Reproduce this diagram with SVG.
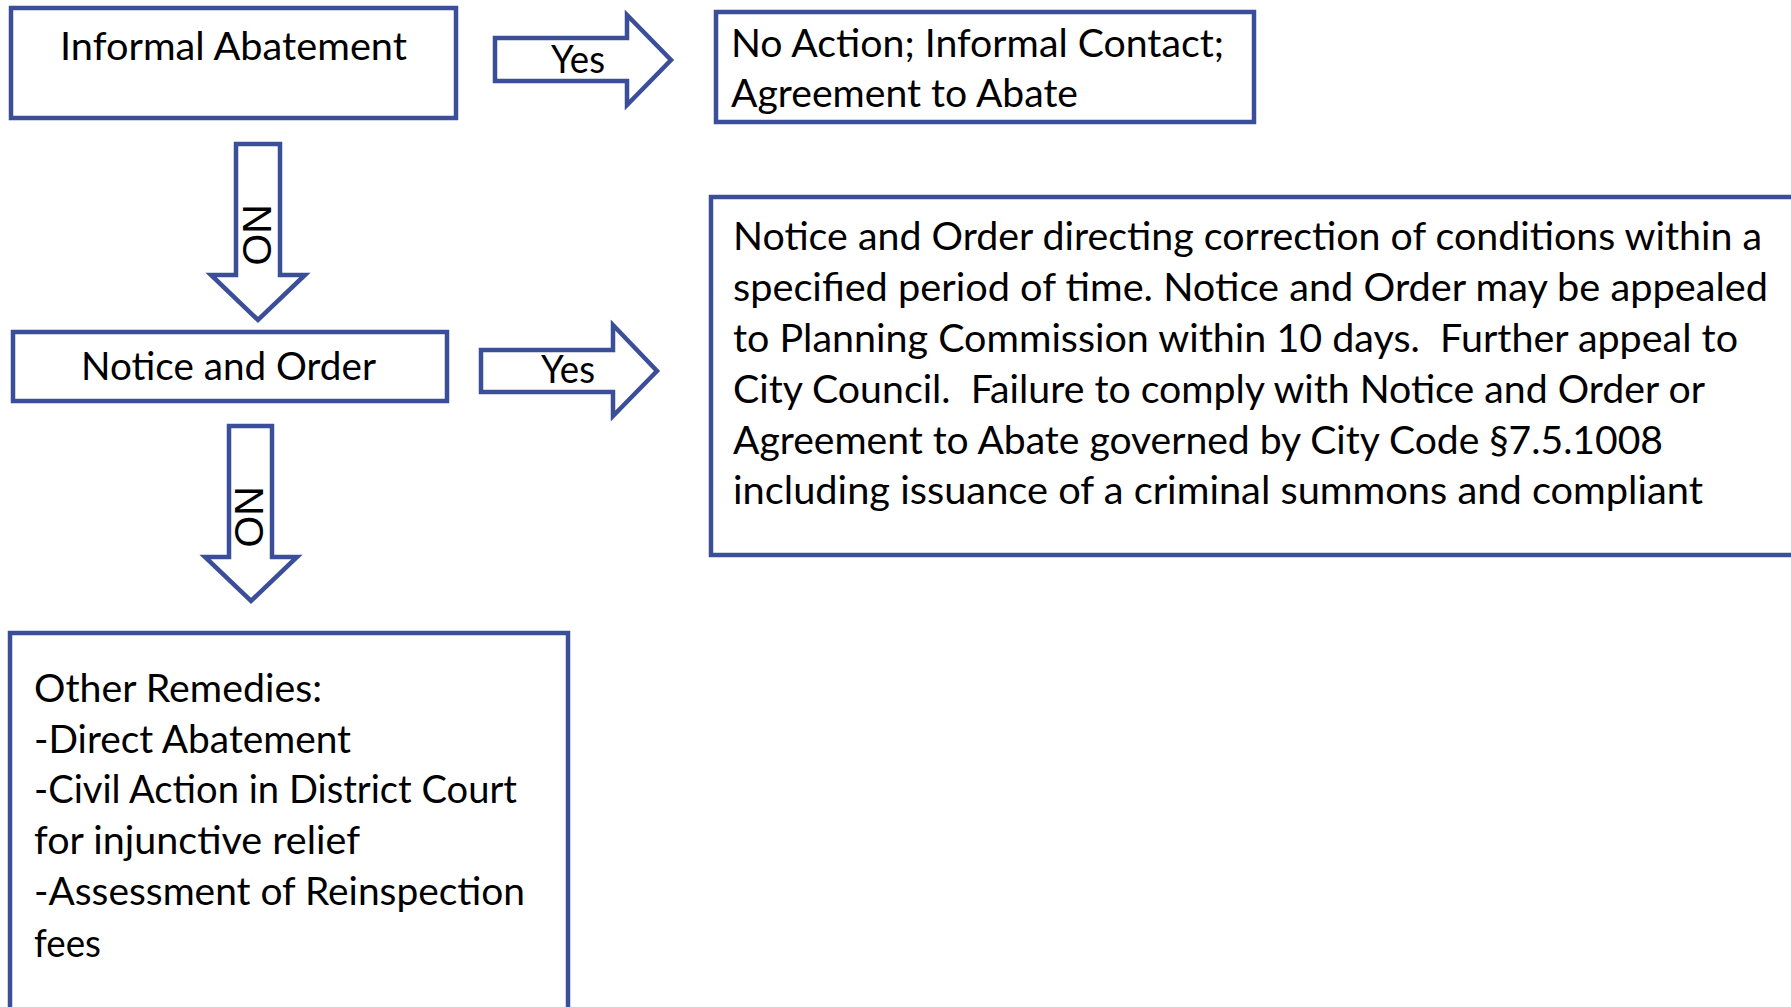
<svg xmlns="http://www.w3.org/2000/svg" width="1791" height="1007" viewBox="0 0 1791 1007">
  <style>
    .box { fill: #ffffff; stroke: #3B4E99; stroke-width: 4.5; }
    .arrow { fill: #ffffff; stroke: #3B4E99; stroke-width: 4.5; stroke-linejoin: miter; }
    .t { font-family: Lato, "Liberation Sans", sans-serif; font-size: 38px; fill: #000000; }
    .no { font-family: "Liberation Sans", Arial, sans-serif; font-size: 41px; fill: #000000; }
  </style>
  <rect x="0" y="0" width="1791" height="1007" fill="#ffffff"/>

  <g id="connectors">
    <g id="yes1">
      <polygon class="arrow" points="495,38 627,38 627,15 671,60 627,105 627,81 495,81"/>
      <text class="t" x="551" y="73" textLength="54" lengthAdjust="spacingAndGlyphs">Yes</text>
    </g>
    <g id="no1">
      <polygon class="arrow" points="236,144 280,144 280,275 305,275 258,320 211,275 236,275"/>
      <text class="no" transform="translate(257,235) rotate(90)" text-anchor="middle" dominant-baseline="central">NO</text>
    </g>
    <g id="yes2">
      <polygon class="arrow" points="481,350 613,350 613,325 657,371 613,416 613,392 481,392"/>
      <text class="t" x="541" y="383" textLength="54" lengthAdjust="spacingAndGlyphs">Yes</text>
    </g>
    <g id="no2">
      <polygon class="arrow" points="229,426 272,426 272,557 297,557 251,601 205,557 229,557"/>
      <text class="no" transform="translate(249,517) rotate(90)" text-anchor="middle" dominant-baseline="central">NO</text>
    </g>
  </g>

  <g id="informal-abatement">
    <rect class="box" x="11" y="8" width="445" height="110"/>
    <text class="t" x="60" y="60" textLength="347" lengthAdjust="spacingAndGlyphs">Informal Abatement</text>
  </g>

  <g id="no-action">
    <rect class="box" x="716" y="12" width="538" height="110"/>
    <text class="t" x="731" y="57" textLength="493" lengthAdjust="spacingAndGlyphs">No Action; Informal Contact;</text>
    <text class="t" x="731" y="107" textLength="347" lengthAdjust="spacingAndGlyphs">Agreement to Abate</text>
  </g>

  <g id="notice-and-order">
    <rect class="box" x="13" y="332" width="434" height="69"/>
    <text class="t" x="81" y="380" textLength="295" lengthAdjust="spacingAndGlyphs">Notice and Order</text>
  </g>

  <g id="notice-details">
    <rect class="box" x="711" y="197" width="1100" height="358"/>
    <text class="t" x="733" y="250" textLength="1029" lengthAdjust="spacingAndGlyphs">Notice and Order directing correction of conditions within a</text>
    <text class="t" x="733" y="301" textLength="1035" lengthAdjust="spacingAndGlyphs">specified period of time. Notice and Order may be appealed</text>
    <text class="t" x="733" y="352" textLength="1005" lengthAdjust="spacingAndGlyphs" xml:space="preserve">to Planning Commission within 10 days.  Further appeal to</text>
    <text class="t" x="733" y="403" textLength="972" lengthAdjust="spacingAndGlyphs" xml:space="preserve">City Council.  Failure to comply with Notice and Order or</text>
    <text class="t" x="733" y="454" textLength="930" lengthAdjust="spacingAndGlyphs">Agreement to Abate governed by City Code §7.5.1008</text>
    <text class="t" x="733" y="504" textLength="970" lengthAdjust="spacingAndGlyphs">including issuance of a criminal summons and compliant</text>
  </g>

  <g id="other-remedies">
    <rect class="box" x="10" y="633" width="558" height="400"/>
    <text class="t" x="34" y="702" textLength="288" lengthAdjust="spacingAndGlyphs">Other Remedies:</text>
    <text class="t" x="34" y="753" textLength="317" lengthAdjust="spacingAndGlyphs">-Direct Abatement</text>
    <text class="t" x="34" y="803" textLength="483" lengthAdjust="spacingAndGlyphs">-Civil Action in District Court</text>
    <text class="t" x="34" y="854" textLength="326" lengthAdjust="spacingAndGlyphs">for injunctive relief</text>
    <text class="t" x="34" y="905" textLength="491" lengthAdjust="spacingAndGlyphs">-Assessment of Reinspection</text>
    <text class="t" x="34" y="957" textLength="67" lengthAdjust="spacingAndGlyphs">fees</text>
  </g>
</svg>
